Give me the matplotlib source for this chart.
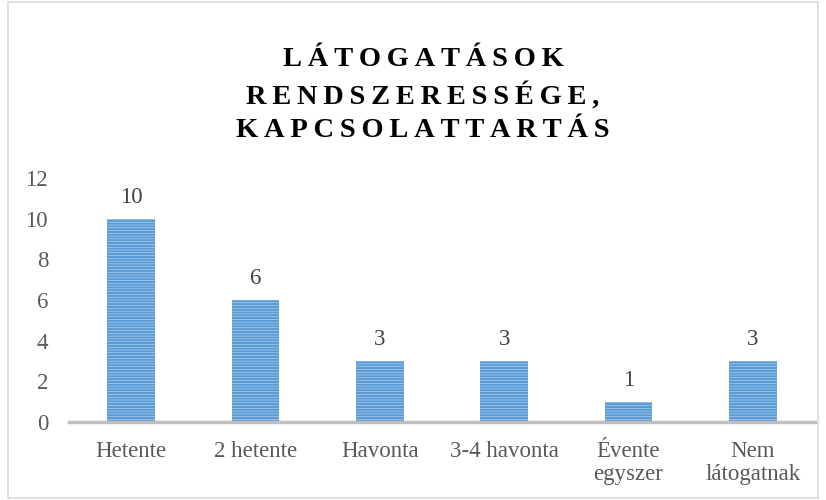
import matplotlib
matplotlib.use("Agg")
import matplotlib.pyplot as plt
from matplotlib.patches import Rectangle

categories = ["Hetente", "2 hetente", "Havonta", "3-4 havonta", "Évente\negyszer", "Nem\nlátogatnak"]
values = [10, 6, 3, 3, 1, 3]
yticks = [0, 2, 4, 6, 8, 10, 12]
title_lines = ["LÁTOGATÁSOK", "RENDSZERESSÉGE,", "KAPCSOLATTARTÁS"]

plt.rcParams['hatch.linewidth'] = 1.6
fig = plt.figure(figsize=(8.26, 5.0), dpi=100)
fig.patches.append(Rectangle((8/826, 2/500), 810/826, 496/500, transform=fig.transFigure,
                             fill=False, edgecolor="#d9d9d9", linewidth=1.2))

ax = fig.add_axes([69/826, 1-422/500, 746/826, 244/500])
x = range(len(categories))
ax.bar(x, values, width=0.386, color="#c5dcf2", edgecolor="#5b9bd5", hatch="------", linewidth=0)
ax.set_xlim(-0.5, len(categories)-0.5)
ax.set_ylim(0, 12)
ax.set_yticks(yticks)
ax.set_xticks(list(x))
ax.set_xticklabels(categories, fontsize=16.5, color="#595959", family="Liberation Serif", linespacing=1.12)
ax.set_yticklabels([str(t) for t in yticks], fontsize=16.5, color="#595959", family="Liberation Serif")
ax.tick_params(axis='both', length=0)
ax.tick_params(axis='y', pad=15)
ax.tick_params(axis='x', pad=14)
for s in ["top", "right", "left"]:
    ax.spines[s].set_visible(False)
ax.spines["bottom"].set_color("#bfbfbf")
ax.spines["bottom"].set_linewidth(2.5)
ax.patch.set_visible(False)

for xi, v in zip(x, values):
    ax.annotate(str(v), (xi, v), xytext=(0, 8), textcoords="offset points", ha="center", va="bottom",
                fontsize=16.5, color="#404040", family="Liberation Serif")

spaced = "\n".join("\u2009".join(list(l)) for l in title_lines)
fig.text(423/826, 1-95/500, spaced, ha="center", va="center", fontsize=20.5, fontweight="bold",
         family="Liberation Serif", color="black", linespacing=1.45)

fig.savefig("out.png", dpi=100)
